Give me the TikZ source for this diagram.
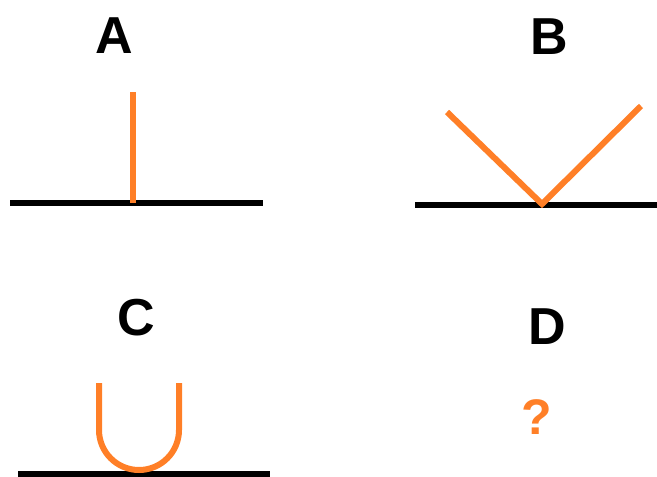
\documentclass[tikz,border=0pt]{standalone}
\usepackage{fontspec}
\setmainfont{Liberation Sans}
\definecolor{paintorange}{RGB}{255,127,39}
\begin{document}
\begin{tikzpicture}[x=1pt,y=-1pt,
  ground/.style={line width=6pt,black},
  ray/.style={line width=6pt,paintorange},
  letter/.style={font=\fontsize{52}{52}\selectfont\bfseries,inner sep=0pt,anchor=base}]
\useasboundingbox (0,0) rectangle (657,477);
% A
\node[letter] (la) at (114,53) {A};
\coordinate (a1) at (10,203);
\coordinate (a2) at (263,203);
\coordinate (atop) at (133,92);
\coordinate (afoot) at (133,203);
\draw[ground] (a1) -- (a2);
\draw[ray] (atop) -- (afoot);
% B
\node[letter] (lb) at (549,54) {B};
\coordinate (b1) at (415,205);
\coordinate (b2) at (657,205);
\coordinate (bl) at (447,112);
\coordinate (bv) at (542,204);
\coordinate (br) at (641,106);
\draw[ground] (b1) -- (b2);
\draw[ray,line join=miter] (bl) -- (bv) -- (br);
% C
\node[letter] (lc) at (136,335) {C};
\coordinate (c1) at (18,474);
\coordinate (c2) at (270,474);
\coordinate (cl) at (99,383);
\coordinate (cr) at (179,383);
\draw[ground] (c1) -- (c2);
\draw[ray] (cl) -- (99,430) arc[start angle=180,end angle=0,radius=40] -- (cr);
% D
\node[letter] (ld) at (547,344) {D};
\node[letter,text=paintorange,font=\fontsize{50}{50}\selectfont\bfseries] (q) at (537,434) {?};
\end{tikzpicture}
\end{document}
